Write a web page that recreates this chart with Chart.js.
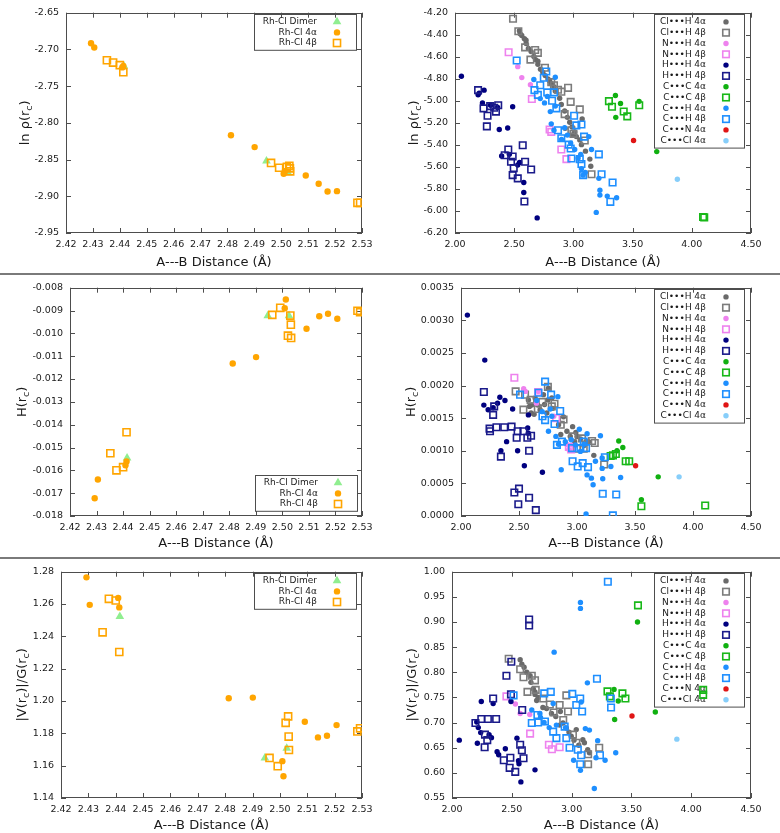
<!DOCTYPE html>
<html>
<head>
<meta charset="utf-8">
<script src="https://cdn.jsdelivr.net/npm/chart.js@4.4.1/dist/chart.umd.min.js"></script>
<style>
  body { margin: 0; background: #fff; }
  #page { position: relative; width: 780px; height: 833px; overflow: hidden; background: #fff; }
  canvas { position: absolute; }
  .sep { position: absolute; left: 0; width: 780px; height: 2px; background: #7a7a7a; }
</style>
</head>
<body>
<div id="page">
  <canvas id="tl" width="390" height="273" style="left:0;top:0"></canvas>
  <canvas id="tr" width="390" height="273" style="left:390px;top:0"></canvas>
  <div class="sep" style="top:273px"></div>
  <canvas id="ml" width="390" height="282" style="left:0;top:275px"></canvas>
  <canvas id="mr" width="390" height="282" style="left:390px;top:275px"></canvas>
  <div class="sep" style="top:557px"></div>
  <canvas id="bl" width="390" height="274" style="left:0;top:559px"></canvas>
  <canvas id="br" width="390" height="274" style="left:390px;top:559px"></canvas>
</div>
<script>
// ---- Rh-Cl bonds (left column) ----
const dimerX = [2.4415, 2.4945, 2.5025];
const dimerLnRho = [-2.7225, -2.852, -2.868];
const dimerH = [-0.01546, -0.00923, -0.00923];
const dimerVG = [1.2523, 1.1648, 1.1708];

const rh4aX = [2.4293, 2.4305, 2.4409, 2.4413, 2.4813, 2.4901, 2.5009, 2.5013, 2.5091, 2.5139, 2.5172, 2.5207];
const rh4aLnRho = [-2.6916, -2.6973, -2.7245, -2.7225, -2.8169, -2.8330, -2.8694, -2.8660, -2.8716, -2.8830, -2.8935, -2.8930];
const rh4aH = [-0.01722, -0.0164, -0.01578, -0.01561, -0.01132, -0.01104, -0.0089, -0.00852, -0.0098, -0.00925, -0.00914, -0.00936];
const rh4aVG = [1.2765, 1.2595, 1.2638, 1.2579, 1.2017, 1.2021, 1.1628, 1.1535, 1.1872, 1.1775, 1.1785, 1.1851];

const rh4bX = [2.4352, 2.4375, 2.4400, 2.4413, 2.4962, 2.4992, 2.5021, 2.5030, 2.5032, 2.5033, 2.5283, 2.5293];
const rh4bLnRho = [-2.7148, -2.7179, -2.7214, -2.7310, -2.8546, -2.8611, -2.8600, -2.8585, -2.8620, -2.8660, -2.9089, -2.9089];
const rh4bH = [-0.01525, -0.0160, -0.01586, -0.01433, -0.00919, -0.00888, -0.0101, -0.00922, -0.00962, -0.0102, -0.00901, -0.00907];
const rh4bVG = [1.2425, 1.2632, 1.2622, 1.2303, 1.1648, 1.1597, 1.1865, 1.1905, 1.1780, 1.1697, 1.1812, 1.1831];

// ---- weak contacts, ln rho (top right) ----
const lnClH4a = [[2.544,-4.363],[2.564,-4.407],[2.586,-4.436],[2.601,-4.48],[2.62,-4.524],[2.643,-4.553],[2.666,-4.597],[2.68,-4.626],[2.70,-4.669],[2.722,-4.713],[2.742,-4.742],[2.762,-4.771],[2.785,-4.801],[2.813,-4.844],[2.836,-4.873],[2.847,-4.911],[2.884,-4.976],[2.898,-5.034],[2.926,-5.092],[2.949,-5.15],[2.969,-5.194],[2.989,-5.238],[3.011,-5.282],[3.025,-5.325],[3.054,-5.355],[3.074,-5.165],[3.068,-5.398],[3.102,-5.457],[3.139,-5.529],[3.147,-5.594],[2.55,-4.39],[2.60,-4.45],[2.70,-4.64],[2.80,-4.82],[2.93,-5.25],[2.99,-5.31]];
const lnClH4b = [[2.49,-4.255],[2.535,-4.369],[2.592,-4.515],[2.637,-4.626],[2.677,-4.538],[2.70,-4.565],[2.76,-4.70],[2.813,-4.83],[2.955,-4.882],[2.977,-5.01],[3.054,-5.078],[2.926,-5.121],[2.983,-5.267],[3.0,-5.30],[3.096,-5.36],[3.153,-5.666],[2.898,-4.917],[2.836,-4.859],[2.87,-4.90]];
const lnNH4a = [[2.53,-4.69],[2.564,-4.789],[2.637,-4.853]];
const lnNH4b = [[2.453,-4.559],[2.649,-4.984],[2.799,-5.261],[2.813,-5.282],[2.898,-5.442],[2.941,-5.529]];
const lnHH4a = [[2.054,-4.777],[2.195,-4.946],[2.204,-4.93],[2.246,-4.903],[2.232,-5.019],[2.30,-5.04],[2.36,-5.06],[2.487,-5.054],[2.374,-5.261],[2.445,-5.247],[2.394,-5.50],[2.459,-5.486],[2.53,-5.582],[2.545,-5.56],[2.581,-5.742],[2.581,-5.833],[2.694,-6.063]];
const lnHH4b = [[2.195,-4.903],[2.241,-5.069],[2.275,-5.136],[2.269,-5.232],[2.297,-5.048],[2.331,-5.063],[2.365,-5.04],[2.346,-5.098],[2.45,-5.442],[2.42,-5.494],[2.487,-5.506],[2.473,-5.553],[2.496,-5.611],[2.487,-5.675],[2.53,-5.704],[2.572,-5.404],[2.592,-5.553],[2.643,-5.623],[2.586,-5.914]];
const lnCC4a = [[3.355,-4.952],[3.398,-5.025],[3.358,-5.15],[3.555,-5.005],[3.704,-5.461]];
const lnCC4b = [[3.30,-5.003],[3.326,-5.054],[3.425,-5.097],[3.455,-5.141],[3.556,-5.04],[4.095,-6.055],[4.105,-6.058]];
const lnCH4a = [[2.666,-4.806],[2.847,-4.786],[2.756,-5.019],[2.847,-5.048],[2.805,-5.098],[2.813,-5.209],[2.836,-5.267],[2.926,-5.244],[2.949,-5.311],[2.977,-5.384],[3.011,-5.442],[3.062,-5.486],[3.13,-5.325],[3.153,-5.442],[3.068,-5.617],[3.082,-5.675],[3.10,-5.65],[3.215,-5.704],[3.224,-5.812],[3.224,-5.856],[3.286,-5.865],[3.365,-5.88],[3.193,-6.013],[2.72,-4.98],[2.78,-4.96],[2.90,-5.35],[3.04,-5.52]];
const lnCH4b = [[2.521,-4.634],[2.771,-4.734],[2.75,-4.79],[2.671,-4.903],[2.72,-4.859],[2.70,-4.946],[2.779,-4.923],[2.836,-4.923],[2.856,-5.069],[2.82,-5.0],[3.006,-5.136],[3.025,-5.223],[3.068,-5.215],[2.898,-5.34],[2.87,-5.267],[2.96,-5.398],[2.977,-5.433],[3.09,-5.325],[2.983,-5.524],[3.054,-5.529],[3.068,-5.573],[3.082,-5.675],[3.215,-5.486],[3.238,-5.666],[3.331,-5.742],[3.312,-5.917]];
const lnCN4a = [[3.508,-5.36]];
const lnCCl4a = [[3.878,-5.712]];

// ---- weak contacts, H(rc) (middle right) ----
const hClH4a = [[2.581,0.00178],[2.61,0.0017],[2.639,0.00181],[2.604,0.00158],[2.662,0.0017],[2.711,0.00186],[2.749,0.00178],[2.682,0.00163],[2.74,0.00158],[2.841,0.0014],[2.913,0.0013],[2.962,0.00137],[3.0,0.00122],[3.078,0.00114],[3.10,0.00114],[3.145,0.00093],[2.98,0.00114],[2.942,0.00122],[2.884,0.00152],[2.783,0.00181],[2.754,0.00196],[2.59,0.00168],[2.63,0.00156],[2.72,0.00171],[2.79,0.00165],[2.86,0.00125],[2.99,0.00128],[3.03,0.00118],[3.06,0.00108]];
const hClH4b = [[2.471,0.00191],[2.552,0.00186],[2.538,0.00163],[2.60,0.00178],[2.749,0.00198],[2.806,0.00172],[2.783,0.00168],[2.884,0.00148],[2.962,0.00122],[3.043,0.00119],[3.13,0.00115],[3.153,0.00112],[3.234,0.00079],[3.058,0.00103],[2.662,0.00164],[2.70,0.00175],[2.86,0.0014],[3.0,0.00103]];
const hNH4a = [[2.54,0.00195],[2.555,0.00191],[2.665,0.00191],[2.65,0.00173],[2.80,0.00153],[2.91,0.0011],[2.93,0.00102]];
const hNH4b = [[2.46,0.00212],[2.665,0.0019],[2.82,0.0015],[2.93,0.00106],[2.95,0.00102]];
const hHH4a = [[2.055,0.00308],[2.205,0.00239],[2.197,0.0017],[2.234,0.00163],[2.277,0.00166],[2.315,0.00173],[2.335,0.00182],[2.379,0.00177],[2.445,0.00164],[2.581,0.00155],[2.575,0.00135],[2.58,0.00127],[2.393,0.00114],[2.344,0.001],[2.488,0.001],[2.546,0.00077],[2.702,0.00067]];
const hHH4b = [[2.197,0.0019],[2.286,0.00168],[2.277,0.00155],[2.246,0.00134],[2.25,0.0013],[2.306,0.00136],[2.373,0.00136],[2.436,0.00137],[2.488,0.0013],[2.48,0.0012],[2.538,0.0013],[2.572,0.0012],[2.604,0.00123],[2.587,0.001],[2.344,0.00091],[2.46,0.00036],[2.50,0.00042],[2.494,0.00018],[2.587,0.00028],[2.645,0.00009]];
const hCC4a = [[3.36,0.00115],[3.395,0.00105],[3.345,0.001],[3.70,0.0006],[3.555,0.00025]];
const hCC4b = [[3.29,0.00092],[3.31,0.00093],[3.335,0.00095],[3.42,0.00084],[3.45,0.00084],[3.555,0.00015],[4.105,0.00016]];
const hCH4a = [[2.835,0.00183],[2.769,0.00164],[2.754,0.0013],[2.818,0.00122],[2.841,0.0011],[2.864,0.00071],[3.02,0.00133],[3.087,0.00126],[3.202,0.00123],[3.217,0.00089],[3.159,0.00084],[3.217,0.00073],[3.222,0.00057],[3.087,0.00063],[3.124,0.00058],[3.139,0.00048],[3.292,0.00076],[3.376,0.00059],[3.078,0.00003],[2.986,0.00109],[2.899,0.00114],[3.029,0.00099],[2.653,0.00177],[2.783,0.00153],[2.70,0.0016],[2.95,0.00117],[3.06,0.0011]];
const hCH4b = [[2.725,0.00206],[2.509,0.00186],[2.777,0.00186],[2.668,0.00189],[2.725,0.00147],[2.702,0.00153],[2.855,0.00161],[2.806,0.00141],[2.827,0.00109],[2.87,0.00114],[2.957,0.00104],[3.029,0.00104],[3.058,0.00114],[3.078,0.00104],[2.962,0.00084],[3.006,0.00076],[3.049,0.00081],[3.095,0.00075],[3.24,0.0009],[3.222,0.00034],[3.338,0.00033],[3.309,0.00001]];
const hCN4a = [[3.505,0.00077]];
const hCCl4a = [[3.88,0.0006]];

// ---- weak contacts, |V|/G (bottom right) ----
const vgClH4a = [[2.57,0.825],[2.584,0.816],[2.603,0.81],[2.625,0.80],[2.653,0.793],[2.66,0.78],[2.68,0.767],[2.694,0.761],[2.694,0.756],[2.708,0.744],[2.72,0.75],[2.791,0.728],[2.832,0.718],[2.868,0.712],[2.906,0.722],[2.928,0.699],[2.956,0.689],[2.978,0.681],[2.997,0.673],[3.039,0.686],[3.094,0.666],[3.107,0.66],[3.135,0.646],[3.149,0.64],[2.90,0.695],[2.76,0.73],[3.02,0.665],[3.06,0.655]];
const vgClH4b = [[2.474,0.827],[2.57,0.806],[2.667,0.793],[2.694,0.784],[2.598,0.79],[2.631,0.761],[2.70,0.765],[2.763,0.748],[2.818,0.736],[2.956,0.754],[2.97,0.722],[2.90,0.735],[2.85,0.72],[3.011,0.676],[3.04,0.66],[3.138,0.637],[3.231,0.65],[3.138,0.617],[2.93,0.705]];
const vgNH4a = [[2.53,0.737],[2.57,0.718],[2.65,0.716]];
const vgNH4b = [[2.455,0.752],[2.653,0.678],[2.81,0.656],[2.835,0.647],[2.90,0.651]];
const vgHH4a = [[2.061,0.665],[2.207,0.701],[2.245,0.742],[2.22,0.69],[2.212,0.659],[2.31,0.676],[2.344,0.738],[2.377,0.642],[2.39,0.636],[2.446,0.648],[2.493,0.742],[2.543,0.669],[2.556,0.624],[2.56,0.618],[2.576,0.582],[2.694,0.606],[2.33,0.67],[2.24,0.68]];
const vgHH4b = [[2.645,0.905],[2.645,0.893],[2.496,0.821],[2.455,0.793],[2.344,0.748],[2.493,0.756],[2.587,0.725],[2.196,0.699],[2.245,0.707],[2.30,0.707],[2.369,0.707],[2.276,0.676],[2.295,0.665],[2.273,0.651],[2.57,0.656],[2.584,0.645],[2.598,0.629],[2.488,0.63],[2.433,0.625],[2.482,0.61],[2.529,0.602]];
const vgCC4a = [[3.551,0.90],[3.355,0.766],[3.39,0.743],[3.36,0.706],[3.70,0.721]];
const vgCC4b = [[3.555,0.933],[3.30,0.762],[3.32,0.752],[3.425,0.758],[3.45,0.748],[4.10,0.765],[4.10,0.755]];
const vgCH4a = [[3.074,0.939],[3.074,0.927],[2.854,0.84],[3.132,0.779],[2.846,0.738],[2.667,0.725],[2.735,0.718],[2.813,0.69],[2.873,0.695],[3.08,0.741],[3.115,0.688],[3.149,0.685],[3.218,0.664],[3.204,0.63],[3.28,0.625],[3.369,0.64],[3.017,0.625],[3.074,0.605],[3.19,0.569],[2.77,0.70],[2.95,0.69],[2.74,0.71]];
const vgCH4b = [[3.303,0.98],[3.212,0.787],[2.826,0.761],[2.771,0.758],[3.006,0.757],[3.072,0.748],[3.039,0.735],[3.088,0.722],[2.515,0.754],[2.667,0.699],[2.714,0.715],[2.777,0.702],[2.846,0.682],[2.873,0.669],[2.942,0.692],[2.956,0.669],[2.983,0.65],[3.052,0.646],[3.072,0.617],[3.237,0.635],[3.328,0.748],[3.33,0.73],[2.72,0.70],[3.08,0.635]];
const vgCN4a = [[3.505,0.713]];
const vgCCl4a = [[3.88,0.667]];

const FONT = 'DejaVu Sans';
const INK = '#1a1a1a';

// marker looks
const rhStyles = [
  { label: 'Rh-Cl Dimer', shape: 'triangle', color: '#90ee90' },
  { label: 'Rh-Cl 4\u03b1', shape: 'circle', color: '#ffa500' },
  { label: 'Rh-Cl 4\u03b2', shape: 'rect', color: '#ffa500' }
];
const dots = '\u2022\u2022\u2022';
const contactStyles = [
  { label: 'Cl' + dots + 'H 4\u03b1', shape: 'circle', color: '#6a6a6a' },
  { label: 'Cl' + dots + 'H 4\u03b2', shape: 'rect', color: '#7c7c7c' },
  { label: 'N' + dots + 'H 4\u03b1', shape: 'circle', color: '#ee82ee' },
  { label: 'N' + dots + 'H 4\u03b2', shape: 'rect', color: '#ee82ee' },
  { label: 'H' + dots + 'H 4\u03b1', shape: 'circle', color: '#00007f' },
  { label: 'H' + dots + 'H 4\u03b2', shape: 'rect', color: '#1a1a8a' },
  { label: 'C' + dots + 'C 4\u03b1', shape: 'circle', color: '#10b010' },
  { label: 'C' + dots + 'C 4\u03b2', shape: 'rect', color: '#18b818' },
  { label: 'C' + dots + 'H 4\u03b1', shape: 'circle', color: '#1e8fff' },
  { label: 'C' + dots + 'H 4\u03b2', shape: 'rect', color: '#1e8fff' },
  { label: 'C' + dots + 'N 4\u03b1', shape: 'circle', color: '#e01515' },
  { label: 'C' + dots + 'Cl 4\u03b1', shape: 'circle', color: '#87cefa' }
];

function zip(xs, ys) {
  return xs.map((x, i) => ({ x: x, y: ys[i] }));
}
function pairs(list) {
  return list.map(p => ({ x: p[0], y: p[1] }));
}

function makeSets(styles, dataLists, big) {
  return styles.map((st, i) => {
    const r = st.shape === 'circle' ? (big ? 3.2 : 2.7) : st.shape === 'rect' ? (big ? 5 : 4.6) : 5;
    return {
      label: st.label,
      data: dataLists[i],
      shape: st.shape,
      markR: r,
      pointStyle: st.shape,
      pointRadius: r,
      pointHoverRadius: r,
      pointBackgroundColor: st.shape === 'rect' ? 'rgba(0,0,0,0)' : st.color,
      pointBorderColor: st.color,
      pointBorderWidth: st.shape === 'rect' ? 1.6 : 0,
      showLine: false,
      order: -i
    };
  });
}

function drawMark(ctx, ds, x, y) {
  ctx.save();
  if (ds.shape === 'circle') {
    ctx.fillStyle = ds.pointBackgroundColor;
    ctx.beginPath(); ctx.arc(x, y, ds.markR, 0, Math.PI * 2); ctx.fill();
  } else if (ds.shape === 'rect') {
    const s = ds.markR / Math.SQRT2;
    ctx.strokeStyle = ds.pointBorderColor; ctx.lineWidth = ds.pointBorderWidth;
    ctx.strokeRect(x - s, y - s, 2 * s, 2 * s);
  } else {
    const r = ds.markR;
    ctx.fillStyle = ds.pointBackgroundColor;
    ctx.beginPath();
    ctx.moveTo(x, y - r);
    ctx.lineTo(x + r * 0.866, y + r * 0.5);
    ctx.lineTo(x - r * 0.866, y + r * 0.5);
    ctx.closePath(); ctx.fill();
  }
  ctx.restore();
}

// plot box with inward ticks on all four sides, like gnuplot
const framePlugin = {
  id: 'frame',
  beforeDatasetsDraw(chart) {
    const { ctx, chartArea: a, scales } = chart;
    ctx.save();
    ctx.strokeStyle = '#4d4d4d';
    ctx.lineWidth = 1;
    ctx.strokeRect(Math.round(a.left) + 0.5, Math.round(a.top) + 0.5, Math.round(a.width) - 1, Math.round(a.height) - 1);
    ctx.beginPath();
    scales.x.ticks.forEach(t => {
      const px = Math.round(scales.x.getPixelForValue(t.value)) + 0.5;
      ctx.moveTo(px, a.bottom); ctx.lineTo(px, a.bottom - 5);
      ctx.moveTo(px, a.top); ctx.lineTo(px, a.top + 5);
    });
    scales.y.ticks.forEach(t => {
      const py = Math.round(scales.y.getPixelForValue(t.value)) + 0.5;
      ctx.moveTo(a.left, py); ctx.lineTo(a.left + 5, py);
      ctx.moveTo(a.right, py); ctx.lineTo(a.right - 5, py);
    });
    ctx.stroke();
    ctx.restore();
  }
};

// key box: text on the left, marker on the right
const keyPlugin = {
  id: 'key',
  beforeDatasetsDraw(chart, args, opts) {
    const { ctx, chartArea: a } = chart;
    const sets = chart.data.datasets;
    const h = sets.length * opts.rowH + 4;
    const left = Math.round(a.right - opts.inset - opts.width);
    const top = Math.round(opts.atBottom ? a.bottom - opts.inset - h : a.top + 1);
    ctx.save();
    ctx.strokeStyle = '#4d4d4d';
    ctx.lineWidth = 1;
    ctx.strokeRect(left + 0.5, top + 0.5, opts.width, h);
    ctx.font = '9px "' + FONT + '"';
    ctx.fillStyle = INK;
    ctx.textAlign = 'right';
    ctx.textBaseline = 'middle';
    sets.forEach((ds, i) => {
      const cy = top + 2.5 + opts.rowH * (i + 0.5);
      ctx.fillText(ds.label, left + opts.textRight, cy);
      drawMark(ctx, ds, left + opts.markX, cy);
    });
    ctx.restore();
  }
};

// rotated y title with subscript c
const yTitlePlugin = {
  id: 'ytitle',
  afterDraw(chart, args, opts) {
    const { ctx, chartArea: a } = chart;
    const big = '13px "' + FONT + '"';
    const small = '9.5px "' + FONT + '"';
    ctx.save();
    ctx.translate(opts.x, (a.top + a.bottom) / 2);
    ctx.rotate(-Math.PI / 2);
    ctx.fillStyle = INK;
    ctx.textBaseline = 'middle';
    ctx.textAlign = 'left';
    let total = 0;
    opts.parts.forEach(p => { ctx.font = p[1] ? small : big; total += ctx.measureText(p[0]).width; });
    let cx = -total / 2;
    opts.parts.forEach(p => {
      ctx.font = p[1] ? small : big;
      ctx.fillText(p[0], cx, p[1] ? 3.5 : 0);
      cx += ctx.measureText(p[0]).width;
    });
    ctx.restore();
  }
};

function makePanel(id, p) {
  const tickFont = { family: FONT, size: 9.5 };
  new Chart(document.getElementById(id), {
    type: 'scatter',
    data: { datasets: p.sets },
    options: {
      responsive: false,
      animation: false,
      events: [],
      layout: { padding: { top: p.padTop, right: p.padRight, left: 0, bottom: 0 } },
      scales: {
        x: {
          type: 'linear', min: p.xMin, max: p.xMax,
          afterFit: s => { s.height = p.xHeight; },
          grid: { display: false, drawTicks: false },
          border: { display: false },
          ticks: {
            stepSize: p.xStep, autoSkip: false, maxRotation: 0, padding: 6,
            color: INK, font: tickFont,
            callback: v => Number(v).toFixed(p.xDigits)
          },
          title: {
            display: true, text: 'A---B Distance (\u00c5)', color: INK,
            font: { family: FONT, size: 13 }, padding: { top: 0, bottom: p.titlePad }
          }
        },
        y: {
          type: 'linear', min: p.yMin, max: p.yMax,
          afterFit: s => { s.width = p.yWidth; },
          grid: { display: false, drawTicks: false },
          border: { display: false },
          ticks: {
            stepSize: p.yStep, autoSkip: false, padding: 7,
            color: INK, font: tickFont,
            callback: v => Number(v).toFixed(p.yDigits)
          }
        }
      },
      plugins: {
        legend: { display: false },
        tooltip: { enabled: false },
        key: p.key,
        ytitle: { x: p.yTitleX, parts: p.yTitle }
      }
    },
    plugins: [framePlugin, keyPlugin, yTitlePlugin]
  });
}

const leftKeyTop = { width: 102, rowH: 10.6, textRight: 63, markX: 83, inset: 6, atBottom: false };
const leftKeyBottom = { width: 102, rowH: 10.6, textRight: 63, markX: 83, inset: 5, atBottom: true };
const rightKey = { width: 90, rowH: 10.8, textRight: 52, markX: 72, inset: 7, atBottom: false };

const lnTitle = [['ln \u03c1(r', 0], ['c', 1], [')', 0]];
const hTitle = [['H(r', 0], ['c', 1], [')', 0]];
const vgTitle = [['|V(r', 0], ['c', 1], [')|/G(r', 0], ['c', 1], [')', 0]];

makePanel('tl', {
  sets: makeSets(rhStyles, [zip(dimerX, dimerLnRho), zip(rh4aX, rh4aLnRho), zip(rh4bX, rh4bLnRho)], true),
  padTop: 5, padRight: 28, yWidth: 66, xHeight: 40, titlePad: 3,
  xMin: 2.42, xMax: 2.53, xStep: 0.01, xDigits: 2,
  yMin: -2.95, yMax: -2.65, yStep: 0.05, yDigits: 2,
  yTitle: lnTitle, yTitleX: 26, key: leftKeyTop
});
makePanel('tr', {
  sets: makeSets(contactStyles, [lnClH4a, lnClH4b, lnNH4a, lnNH4b, lnHH4a, lnHH4b, lnCC4a, lnCC4b, lnCH4a, lnCH4b, lnCN4a, lnCCl4a].map(pairs), false),
  padTop: 5, padRight: 29, yWidth: 65, xHeight: 40, titlePad: 3,
  xMin: 2.0, xMax: 4.5, xStep: 0.5, xDigits: 2,
  yMin: -6.2, yMax: -4.2, yStep: 0.2, yDigits: 2,
  yTitle: lnTitle, yTitleX: 25, key: rightKey
});
makePanel('ml', {
  sets: makeSets(rhStyles, [zip(dimerX, dimerH), zip(rh4aX, rh4aH), zip(rh4bX, rh4bH)], true),
  padTop: 12, padRight: 28, yWidth: 70, xHeight: 41, titlePad: 6,
  xMin: 2.42, xMax: 2.53, xStep: 0.01, xDigits: 2,
  yMin: -0.018, yMax: -0.008, yStep: 0.001, yDigits: 3,
  yTitle: hTitle, yTitleX: 23, key: leftKeyBottom
});
makePanel('mr', {
  sets: makeSets(contactStyles, [hClH4a, hClH4b, hNH4a, hNH4b, hHH4a, hHH4b, hCC4a, hCC4b, hCH4a, hCH4b, hCN4a, hCCl4a].map(pairs), false),
  padTop: 12, padRight: 29, yWidth: 71, xHeight: 41, titlePad: 6,
  xMin: 2.0, xMax: 4.5, xStep: 0.5, xDigits: 2,
  yMin: 0, yMax: 0.0035, yStep: 0.0005, yDigits: 4,
  yTitle: hTitle, yTitleX: 22, key: rightKey
});
makePanel('bl', {
  sets: makeSets(rhStyles, [zip(dimerX, dimerVG), zip(rh4aX, rh4aVG), zip(rh4bX, rh4bVG)], true),
  padTop: 11, padRight: 28, yWidth: 61, xHeight: 35, titlePad: 0,
  xMin: 2.42, xMax: 2.53, xStep: 0.01, xDigits: 2,
  yMin: 1.14, yMax: 1.28, yStep: 0.02, yDigits: 2,
  yTitle: vgTitle, yTitleX: 23, key: leftKeyTop
});
makePanel('br', {
  sets: makeSets(contactStyles, [vgClH4a, vgClH4b, vgNH4a, vgNH4b, vgHH4a, vgHH4b, vgCC4a, vgCC4b, vgCH4a, vgCH4b, vgCN4a, vgCCl4a].map(pairs), false),
  padTop: 11, padRight: 29, yWidth: 62, xHeight: 35, titlePad: 0,
  xMin: 2.0, xMax: 4.5, xStep: 0.5, xDigits: 2,
  yMin: 0.55, yMax: 1.0, yStep: 0.05, yDigits: 2,
  yTitle: vgTitle, yTitleX: 23, key: rightKey
});
</script>
</body>
</html>
